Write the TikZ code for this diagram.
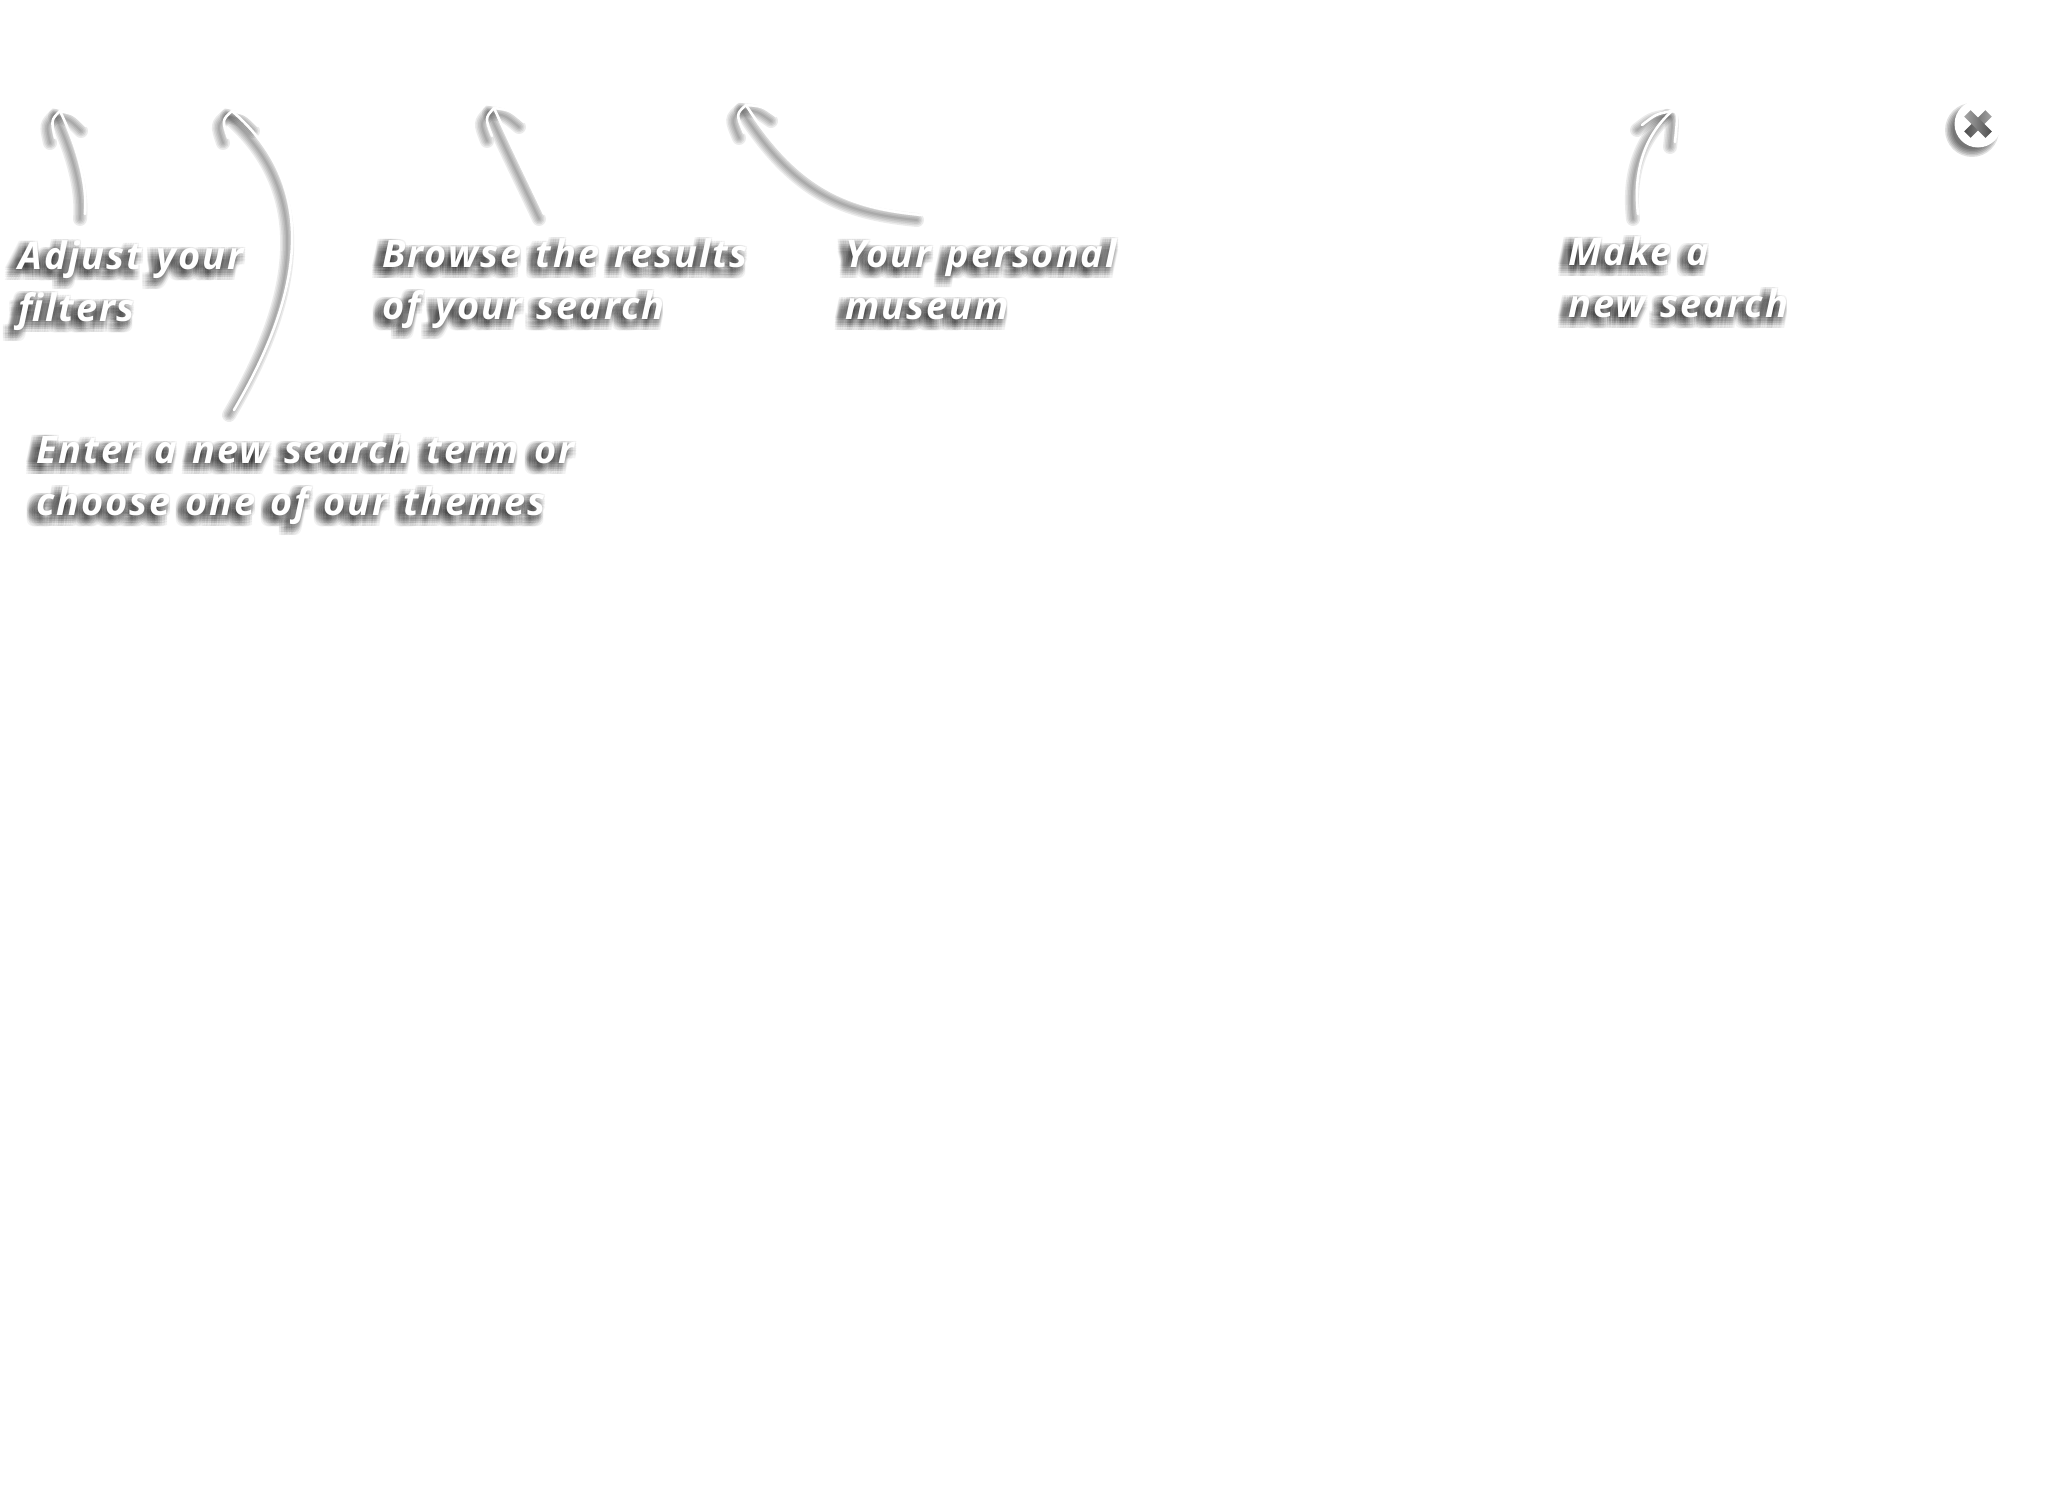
\documentclass[tikz,border=0pt]{standalone}
\usepackage{fontspec}
\setmainfont{Open Sans}[LetterSpace=5,WordSpace=1.25]
\usetikzlibrary{positioning}

% soft shadow, then the white text over it
\newcommand{\hintnode}[3]{%
  \foreach \dx [count=\i] in {-11,-8.6,-6.2,-3.8,-1.4,1}{
    \foreach \dy [count=\j] in {-1,1.4,3.8,6.2,8.6,11}{
      \node[hinttext, text=black, text opacity=.05] (#1s\i\j) at ([xshift=\dx*0.5pt,yshift=-\dy*0.5pt]#2) {#3};
    }
  }
  \node[hinttext] (#1) at (#2) {#3};
}

% curved arrow, white stroke with its shadow
\newcommand{\hintarrow}[1]{%
  \foreach \w in {14,11,8,5,2}{
    \begin{scope}[hintglow, line width=\w*0.5pt]
      \draw ([xshift=-2.5pt,yshift=-2.5pt]#1foot) .. controls ([xshift=-2.5pt,yshift=-2.5pt]#1a) and ([xshift=-2.5pt,yshift=-2.5pt]#1b) .. ([xshift=-2.5pt,yshift=-2.5pt]#1tip);
      \draw ([xshift=-2.5pt,yshift=-2.5pt]#1left) .. controls ([xshift=-2.5pt,yshift=-2.5pt]#1lc) .. ([xshift=-2.5pt,yshift=-2.5pt]#1tip) .. controls ([xshift=-2.5pt,yshift=-2.5pt]#1rc) .. ([xshift=-2.5pt,yshift=-2.5pt]#1right);
    \end{scope}
  }
  \draw[hintline] (#1foot) .. controls (#1a) and (#1b) .. (#1tip);
  \draw[hintline] (#1left) .. controls (#1lc) .. (#1tip) .. controls (#1rc) .. (#1right);
}

\begin{document}
\begin{tikzpicture}[
    x=0.5pt, y=-0.5pt,
    hinttext/.style={anchor=north west, align=left, inner sep=0pt, text=white,
      font=\fontsize{19pt}{26pt}\selectfont\bfseries\itshape},
    hintglow/.style={draw=black, opacity=.08, line cap=round},
    hintline/.style={draw=white, line width=1.3pt, line cap=round},
    closearm/.style={rectangle, minimum width=15pt, minimum height=4.5pt, inner sep=0pt}
]
\useasboundingbox (0,0) rectangle (2048,1500);

% filters
\coordinate (filterfoot) at (85,214);
\coordinate (filtera) at (88,180);
\coordinate (filterb) at (74,140);
\coordinate (filtertip) at (60,111);
\coordinate (filterleft) at (55,138);
\coordinate (filterlc) at (51,120);
\coordinate (filterrc) at (74,114);
\coordinate (filterright) at (86,126);
\hintarrow{filter}
\hintnode{filterhint}{18,240}{Adjust your\\filters}

% search box
\coordinate (termfoot) at (234,410);
\coordinate (terma) at (299,300);
\coordinate (termb) at (324,190);
\coordinate (termtip) at (232,111);
\coordinate (termleft) at (228,138);
\coordinate (termlc) at (222,120);
\coordinate (termrc) at (246,114);
\coordinate (termright) at (258,126);
\hintarrow{term}
\hintnode{termhint}{36,434}{Enter a new search term or\\choose one of our themes}

% results
\coordinate (resultfoot) at (544,214);
\coordinate (resulta) at (528,180);
\coordinate (resultb) at (513,150);
\coordinate (resulttip) at (494,108);
\coordinate (resultleft) at (492,136);
\coordinate (resultlc) at (485,118);
\coordinate (resultrc) at (510,110);
\coordinate (resultright) at (524,122);
\hintarrow{result}
\hintnode{resulthint}{382,238}{Browse the results\\of your search}

% museum
\coordinate (museumfoot) at (922,215);
\coordinate (museuma) at (850,208);
\coordinate (museumb) at (800,190);
\coordinate (museumtip) at (746,105);
\coordinate (museumleft) at (744,133);
\coordinate (museumlc) at (736,114);
\coordinate (museumrc) at (762,106);
\coordinate (museumright) at (776,116);
\hintarrow{museum}
\hintnode{museumhint}{845,238}{Your personal\\museum}

% new search
\coordinate (newfoot) at (1638,214);
\coordinate (newa) at (1633,170);
\coordinate (newb) at (1645,135);
\coordinate (newtip) at (1672,111);
\coordinate (newleft) at (1642,125);
\coordinate (newlc) at (1656,114);
\coordinate (newrc) at (1678,112);
\coordinate (newright) at (1675,142);
\hintarrow{new}
\hintnode{newhint}{1568,236}{Make a\\new search}

% close button
\foreach \r [count=\i] in {27,25.5,24,22.5,21,19.5}{
  \node[circle, fill=black, opacity=.12, inner sep=0pt, minimum size=\r*1pt] (closeglow\i) at (1972,130) {};
}
\node[circle, fill=white, inner sep=0pt, minimum size=23.5pt] (closebtn) at (1978,124) {};
\node[closearm, rotate=45, left color=black!70, right color=black!35] (closearma) at (closebtn) {};
\node[closearm, rotate=-45, left color=black!35, right color=black!70] (closearmb) at (closebtn) {};

\end{tikzpicture}
\end{document}
